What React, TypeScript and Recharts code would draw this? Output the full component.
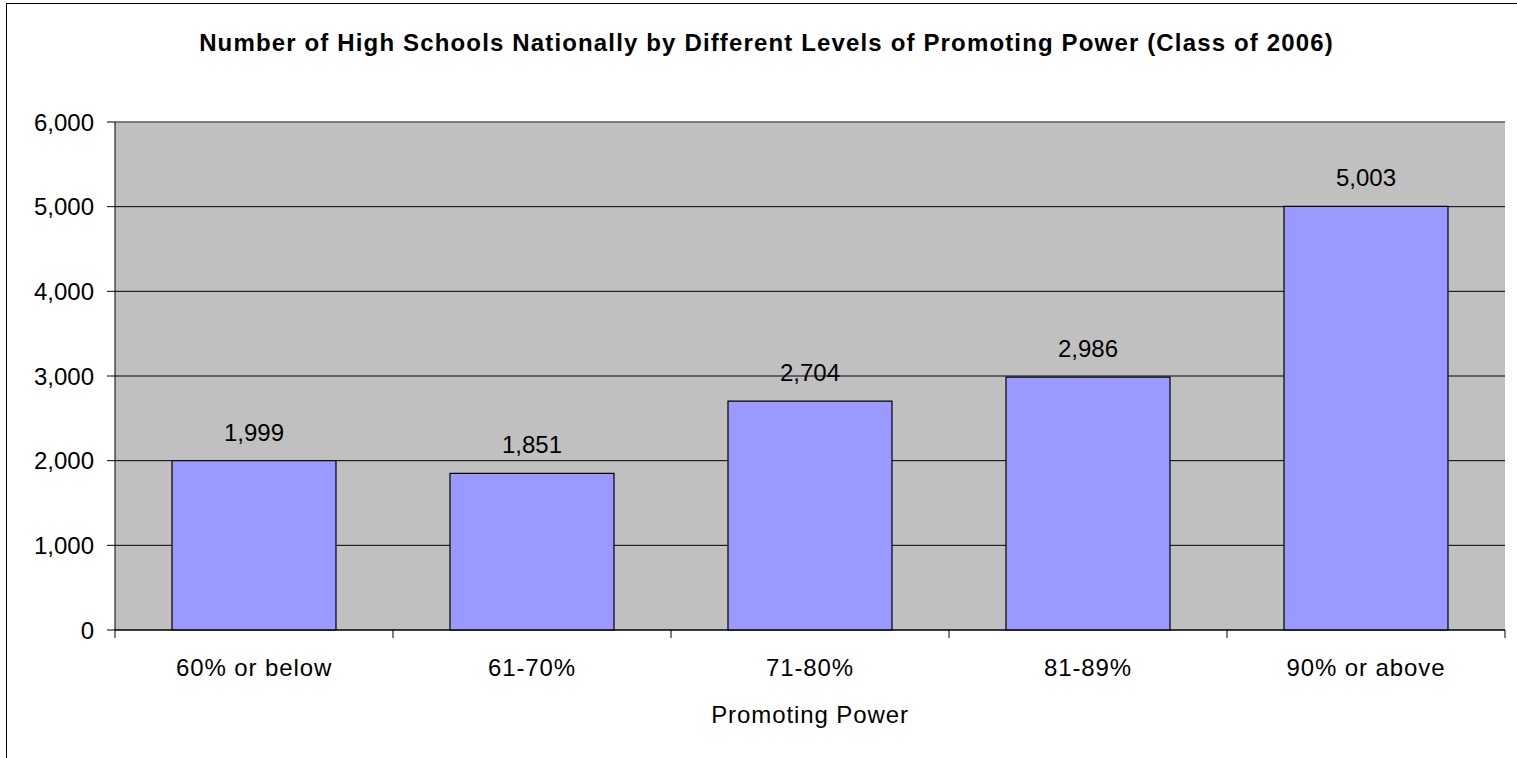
import { Bar, BarChart, CartesianGrid, Label, LabelList, ReferenceLine, XAxis, YAxis } from "recharts";

// values
const categories = ["60% or below", "61-70%", "71-80%", "81-89%", "90% or above"];
const schools = [1999, 1851, 2704, 2986, 5003];
const yTicks = [0, 1000, 2000, 3000, 4000, 5000, 6000];

const data = categories.map((level, i) => ({ level, schools: schools[i] }));

const FONT = "'Liberation Sans', Arial, sans-serif";
const fmt = (v: number) => v.toLocaleString("en-US");

// category tick: label in the middle, tick marks on the band edges
const EdgeTick = (props: any) => {
  const { x, y, payload, index, visibleTicksCount } = props;
  const half = payload?.offset ?? 0;
  return (
    <g>
      <line x1={x - half} x2={x - half} y1={y} y2={y + 8} stroke="#000" />
      {index === visibleTicksCount - 1 && (
        <line x1={x + half} x2={x + half} y1={y} y2={y + 8} stroke="#000" />
      )}
      <text
        x={x}
        y={y + 46}
        textAnchor="middle"
        fill="#000"
        fontSize={24}
        fontFamily={FONT}
        letterSpacing={0.9}
      >
        {payload.value}
      </text>
    </g>
  );
};

export default function App() {
  return (
    <div
      style={{
        position: "absolute",
        left: 0,
        top: 0,
        width: 1517,
        height: 758,
        overflow: "hidden",
        background: "#fff",
        fontFamily: FONT,
      }}
    >
      <div
        style={{
          position: "absolute",
          left: 6,
          top: 3,
          width: 1600,
          height: 900,
          border: "1px solid #000",
        }}
      />
      <div
        style={{
          position: "absolute",
          left: 0,
          top: 31,
          width: 1533,
          textAlign: "center",
          fontWeight: "bold",
          fontSize: 24,
          lineHeight: "24px",
          letterSpacing: "1.15px",
          color: "#000",
        }}
      >
        Number of High Schools Nationally by Different Levels of Promoting Power (Class of 2006)
      </div>
      <div style={{ position: "absolute", left: 0, top: 0 }}>
        <BarChart
          width={1517}
          height={758}
          data={data}
          margin={{ top: 122, right: 12, bottom: 28, left: 55 }}
          barCategoryGap="20.5%"
        >
          <CartesianGrid vertical={false} stroke="#000" fill="#C0C0C0" fillOpacity={1} />
          <XAxis
            dataKey="level"
            height={100}
            tickSize={0}
            tickMargin={0}
            tickLine={false}
            axisLine={{ stroke: "#000" }}
            tick={<EdgeTick />}
            interval={0}
          >
            <Label
              value="Promoting Power"
              position="insideBottom"
              offset={7}
              fill="#000"
              fontSize={24}
              fontFamily={FONT}
              letterSpacing={0.9}
            />
          </XAxis>
          <YAxis
            width={60}
            domain={[0, 6000]}
            ticks={yTicks}
            tickFormatter={fmt}
            tickSize={8}
            tickMargin={13}
            axisLine={{ stroke: "#000" }}
            tickLine={{ stroke: "#000" }}
            tick={{ fill: "#000", fontSize: 24, fontFamily: FONT }}
            interval={0}
          />
          <YAxis
            yAxisId="frame"
            orientation="right"
            width={0}
            domain={[0, 6000]}
            tick={false}
            tickLine={false}
            axisLine={{ stroke: "#808080" }}
          />
          <ReferenceLine y={6000} stroke="#808080" strokeWidth={1.5} />
          <Bar dataKey="schools" fill="#9999FF" stroke="#000" strokeWidth={1.2} isAnimationActive={false}>
            <LabelList
              dataKey="schools"
              position="top"
              offset={20}
              formatter={(v: any) => fmt(Number(v))}
              fill="#000"
              fontSize={24}
              fontFamily={FONT}
            />
          </Bar>
        </BarChart>
      </div>
    </div>
  );
}
